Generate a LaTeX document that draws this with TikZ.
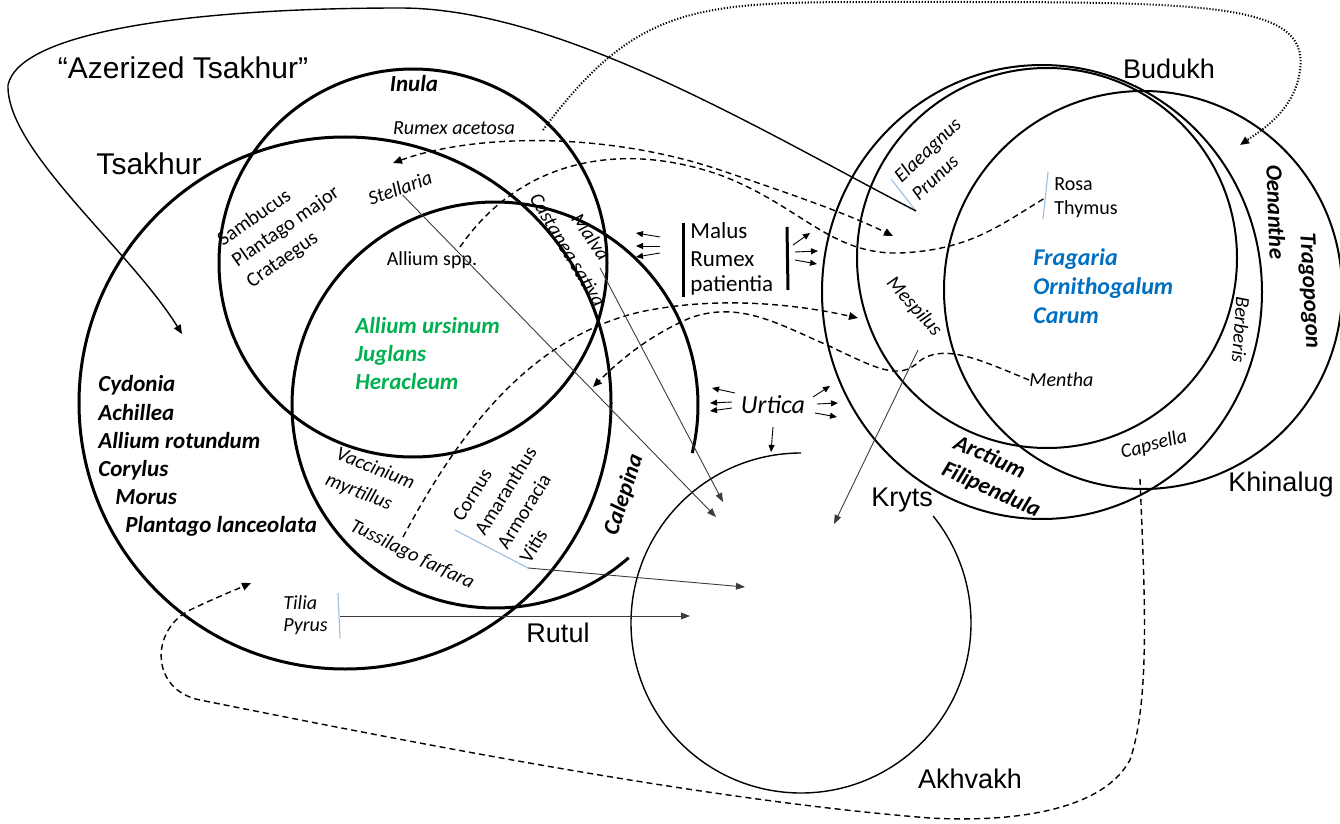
\documentclass[tikz,border=0pt]{standalone}
\usepackage{fontspec}
\setmainfont{Carlito}
\newfontfamily\langfont{Liberation Sans}
\usetikzlibrary{arrows.meta}
\definecolor{spgreen}{RGB}{0,176,80}
\definecolor{spblue}{RGB}{0,112,192}
\definecolor{tickblue}{RGB}{160,195,228}
\definecolor{leadgray}{RGB}{60,60,60}
\tikzset{
  lang/.style={font=\langfont\fontsize{13.5}{16}\selectfont,inner sep=0pt},
  biglang/.style={font=\langfont\fontsize{15}{18}\selectfont,inner sep=0pt},
  sp/.style={font=\itshape\fontsize{10}{12}\selectfont,inner sep=0pt},
  rmsp/.style={font=\fontsize{10}{12}\selectfont,inner sep=0pt},
  bsp/.style={font=\bfseries\itshape\fontsize{11.5}{14}\selectfont,inner sep=0pt},
  ring/.style={line width=1.5pt},
  lring/.style={line width=1pt},
  arr/.style={-{Triangle[length=4.5pt,width=3.8pt]}},
  arrboth/.style={{Triangle[length=4.5pt,width=3.8pt]}-{Triangle[length=4.5pt,width=3.8pt]}},
  dashcon/.style={dash pattern=on 3pt off 2pt,line width=0.7pt},
  dotcon/.style={dash pattern=on 0.6pt off 0.9pt,line width=1pt},
  lead/.style={draw=leadgray,line width=0.45pt,-{Triangle[length=4.5pt,width=3.4pt]}},
  tickmark/.style={draw=tickblue,line width=0.6pt},
  urtarr/.style={line width=0.45pt,-{Triangle[length=3.5pt,width=3pt]}},
  bar/.style={line width=1.5pt}
}
\begin{document}
\begin{tikzpicture}[x=0.5pt,y=-0.5pt]
\useasboundingbox (0,0) rectangle (1340,824);
% circles, left group
\draw[ring] (345,403) circle[radius=266];
\draw[ring] (413,263) circle[radius=194];
\draw[ring] (495,405) ++(48.8:203) arc[start angle=48.8,end angle=373.7,radius=203];
% circles, right group
\draw[lring] (1042,292) ellipse[x radius=220,y radius=227];
\draw[lring] (1047,258) circle[radius=190];
\draw[lring] (1143,290) circle[radius=199];
% Akhvakh
\draw[line width=0.7pt] (801,453) arc[start angle=270,end angle=-39,radius=170];

% language names
\node[biglang] (azts) at (183,68) {“Azerized Tsakhur”};
\node[biglang] (tsak) at (149,164) {Tsakhur};
\node[lang] (budukh) at (1169,69) {Budukh};
\node[lang] (khin) at (1281,485) {Khinalug};
\node[lang] (kryts) at (902,500) {Kryts};
\node[lang] (rutul) at (558,633) {Rutul};
\node[lang] (akhv) at (970,779) {Akhvakh};

% species, left group
\node[bsp] (inula) at (414,84) {Inula};
\node[sp] (rumac) at (454,128) {Rumex acetosa};
\node[sp,rotate=20] (stel) at (400,188) {Stellaria};
\node[rmsp,font=\fontsize{10.2}{12.6}\selectfont,rotate=35,align=left] (samb) at (286,227)
  {Sambucus\\Plantago major\\Crataegus};
\node[rmsp] (alspp) at (432,260) {Allium spp.};
\node[sp,rotate=-55] (malva) at (591,237) {Malva};
\node[sp,rotate=-59] (castan) at (568,250) {Castanea sativa};
\node[bsp,text=spgreen,anchor=base west] (alurs) at (355,333) {Allium ursinum};
\node[bsp,text=spgreen,anchor=base west] (jugl) at (355,361) {Juglans};
\node[bsp,text=spgreen,anchor=base west] (herac) at (355,389) {Heracleum};
\node[bsp,anchor=base west] (cyd) at (98,391) {Cydonia};
\node[bsp,anchor=base west] (ach) at (98,420) {Achillea};
\node[bsp,anchor=base west] (alrot) at (98,448) {Allium rotundum};
\node[bsp,anchor=base west] (cor) at (98,476) {Corylus};
\node[bsp,anchor=base west] (mor) at (115,504) {Morus};
\node[bsp,anchor=base west] (plan) at (125,532) {Plantago lanceolata};
\node[sp,font=\itshape\fontsize{10}{14}\selectfont,rotate=-22,align=left] (vacc) at (370,482)
  {Vaccinium\\myrtillus};
\node[sp,rotate=-26] (tuss) at (412,555) {Tussilago farfara};
\node[rmsp,font=\fontsize{10}{13.2}\selectfont,rotate=58,align=left] (corn) at (517,498)
  {Cornus\\Amaranthus\\Armoracia\\Vitis};
\node[bsp,rotate=72] (calep) at (624,495) {Calepina};
\node[sp,anchor=base west] (tilia) at (283,609) {Tilia};
\node[sp,anchor=base west] (pyrus) at (283,631) {Pyrus};

% middle
\node[rmsp,font=\fontsize{11.5}{14}\selectfont,anchor=base west] (malus) at (690,238) {Malus};
\node[rmsp,font=\fontsize{11.5}{14}\selectfont,anchor=base west] (rumpat) at (690,266) {Rumex};
\node[rmsp,font=\fontsize{11.5}{14}\selectfont,anchor=base west] (pati) at (690,292) {patientia};
\draw[bar] (683,223) -- (683,297);
\draw[bar] (787,227) -- (788,290);
\node[sp,font=\itshape\fontsize{13}{15}\selectfont] (urt) at (773,405) {Urtica};

% species, right group
\node[sp,font=\itshape\fontsize{10}{12.8}\selectfont,rotate=43,align=left] (elae) at (936,159) {Elaeagnus\\Prunus};
\node[rmsp,anchor=base west] (rosa) at (1054,191) {Rosa};
\node[rmsp,anchor=base west] (thym) at (1054,214) {Thymus};
\node[bsp,font=\bfseries\itshape\fontsize{12}{14}\selectfont,text=spblue,anchor=base west] (frag) at (1033,265) {Fragaria};
\node[bsp,font=\bfseries\itshape\fontsize{12}{14}\selectfont,text=spblue,anchor=base west] (orni) at (1033,294) {Ornithogalum};
\node[bsp,font=\bfseries\itshape\fontsize{12}{14}\selectfont,text=spblue,anchor=base west] (carum) at (1033,323) {Carum};
\node[sp,rotate=-48] (mesp) at (914,307) {Mespilus};
\node[sp,anchor=west] (menth) at (1029,380) {Mentha};
\node[sp,rotate=-94] (berb) at (1241,330) {Berberis};
\node[bsp,rotate=-88] (oen) at (1276,212) {Oenanthe};
\node[bsp,rotate=-87] (trag) at (1309,291) {Tragopogon};
\node[sp,rotate=15] (caps) at (1154,445) {Capsella};
\node[bsp,font=\bfseries\itshape\fontsize{11.5}{14.6}\selectfont,rotate=-24,align=left] (arct) at (997,477)
  {Arctium\\Filipendula};

% blue ticks
\draw[tickmark] (891,179) -- (916,211) coordinate (elaeEnd);
\draw[tickmark] (1048,172) -- (1043,219);
\coordinate (rosaMid) at (1045,198);
\draw[tickmark] (455,530) -- (528,568) coordinate (cornEnd);
\draw[tickmark] (338,593) -- (340,638);
\coordinate (tiliaMid) at (340,616);

% end points
\coordinate (tsIn) at (182,334);
\coordinate (dotStart) at (543,130);
\coordinate (budIn) at (1240,145);
\coordinate (stelIn) at (393,163);
\coordinate (elaeIn) at (893,236);
\coordinate (allTop) at (460,247);
\coordinate (tussTop) at (403,537);
\coordinate (krytsIn) at (858,318);
\coordinate (calIn) at (593,387);
\coordinate (capsFoot) at (1140,479);
\coordinate (tsLow) at (251,583);
\coordinate (malvaFoot) at (600,268);
\coordinate (mespFoot) at (918,350);
\coordinate (akA) at (716,517);
\coordinate (akB) at (723,502);
\coordinate (akC) at (745,587);
\coordinate (akD) at (690,616);
\coordinate (akE) at (834,524);

% connectors
\draw[line width=0.7pt,arr] (elaeEnd) .. controls (760,130) and (560,8) .. (400,8)
  .. controls (200,8) and (20,30) .. (8,85) .. controls (6,150) and (130,250) .. (tsIn);
\draw[dotcon,arr] (dotStart) .. controls (640,0) and (700,2) .. (900,2)
  .. controls (1200,2) and (1310,0) .. (1300,70) .. controls (1295,110) and (1262,130) .. (budIn);
\draw[dashcon,arrboth] (stelIn) .. controls (470,135) and (600,130) .. (720,170)
  .. controls (800,197) and (850,215) .. (elaeIn);
\draw[dashcon] (allTop) .. controls (520,160) and (620,140) .. (720,175)
  .. controls (800,205) and (830,255) .. (900,253) .. controls (970,250) and (1000,225) .. (rosaMid);
\draw[dashcon,arr] (tussTop) .. controls (450,450) and (520,340) .. (640,312)
  .. controls (720,295) and (800,305) .. (krytsIn);
\draw[dashcon,arr] (menth.west) .. controls (980,360) and (940,340) .. (915,365)
  .. controls (895,380) and (870,365) .. (827,345) .. controls (780,325) and (740,300) .. (690,318)
  .. controls (650,335) and (620,360) .. (calIn);
\draw[dashcon,arr] (capsFoot) .. controls (1145,600) and (1150,700) .. (1130,760)
  .. controls (1100,815) and (1000,822) .. (930,818) .. controls (700,800) and (400,740) .. (200,700)
  .. controls (150,690) and (150,630) .. (190,610) .. controls (215,598) and (235,590) .. (tsLow);
\draw[lead] (stel.south) -- (akA);
\draw[lead] (malvaFoot) -- (akB);
\draw[lead] (cornEnd) -- (akC);
\draw[lead] (tiliaMid) -- (akD);
\draw[lead] (mespFoot) -- (akE);

% small arrows round Urtica and Malus
\foreach \xa/\ya/\xb/\yb in {735/393/712/388,732/402/710/403,732/408/710/411,
  813/397/830/386,817/404/838/403,815/413/837/417,773/427/771/452,
  660/237/636/233,660/246/636/246,660/253/636/257,
  793/245/810/233,795/252/818/251,795/260/817/264}
  \draw[urtarr] (\xa,\ya) -- (\xb,\yb);
\end{tikzpicture}
\end{document}
